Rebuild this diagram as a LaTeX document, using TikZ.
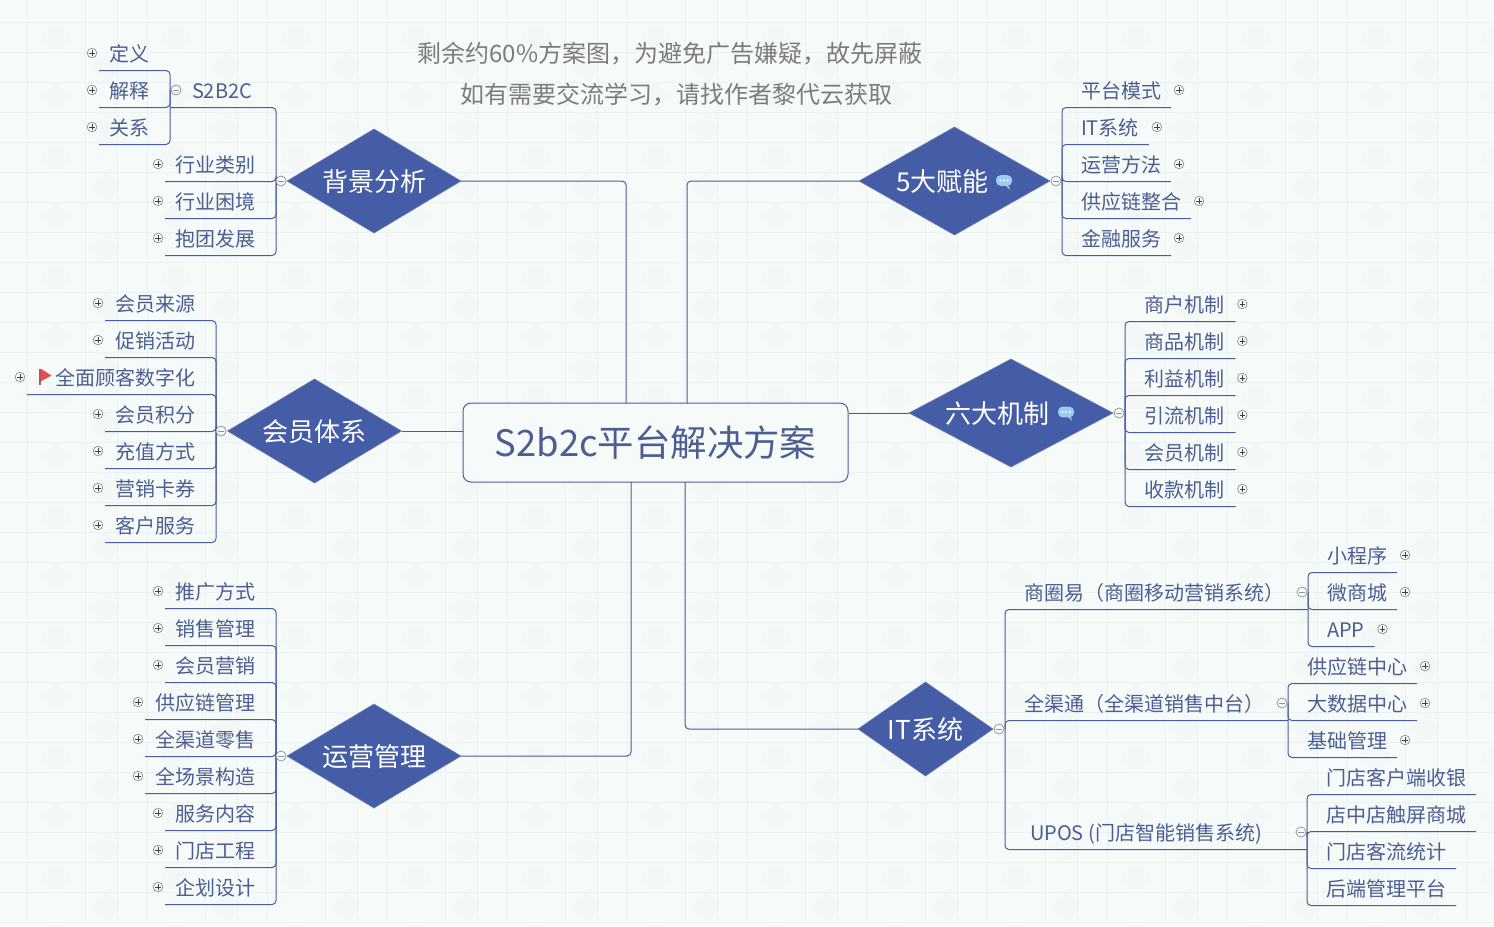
\documentclass[tikz,border=0pt]{standalone}
\usepackage{fontspec}
\setmainfont{Noto Sans CJK SC}
\usetikzlibrary{shapes.geometric}
\definecolor{bgc}{HTML}{F6FBFA}
\definecolor{gridc}{HTML}{EAF3F1}
\definecolor{tilec}{HTML}{F3F8F7}
\definecolor{linec}{HTML}{4A5C9E}
\definecolor{textc}{HTML}{4D5D92}
\definecolor{diac}{HTML}{445DA6}
\definecolor{grayc}{HTML}{7C7C7C}
\definecolor{iconc}{HTML}{8E9498}
\definecolor{bubc}{HTML}{9CCBF2}
\definecolor{flagc}{HTML}{E84C4C}
\definecolor{polec}{HTML}{B0565A}
\tikzset{
  x=0.75pt,y=-0.75pt,
  conn/.style={draw=linec,line width=0.75pt,rounded corners=3pt},
  leafbase/.style={inner xsep=7.5pt,inner ysep=0pt,outer sep=0pt,text=textc,
    font=\fontsize{15pt}{18pt}\selectfont,text height=12pt,text depth=0pt,minimum height=26.25pt},
  leafL/.style={leafbase,anchor=east},
  leafR/.style={leafbase,anchor=west},
  dia/.style={diamond,fill=diac,draw=diac!80!white,line width=.4pt,inner sep=0pt,outer sep=0pt,text=white,
    font=\fontsize{19.5pt}{23pt}\selectfont,text height=16pt,text depth=0pt},
  rootbox/.style={draw=linec,line width=0.75pt,fill=bgc,rounded corners=6pt,inner sep=0pt,
    minimum width=288.75pt,minimum height=59.25pt,text=textc,
    font=\fontsize{27.3pt}{32pt}\selectfont,text height=20.5pt,text depth=0pt},
  notetext/.style={text=grayc,inner sep=0pt,font=\fontsize{18pt}{22pt}\selectfont,text height=13.7pt,text depth=0pt},
  plusi/.style={circle,draw=iconc,line width=.55pt,fill=bgc,minimum size=7.2pt,inner sep=0pt,outer sep=0pt,
    path picture={\draw[black!75,line width=.5pt]
      ([xshift=-2.1pt]path picture bounding box.center)--([xshift=2.1pt]path picture bounding box.center)
      ([yshift=-2.1pt]path picture bounding box.center)--([yshift=2.1pt]path picture bounding box.center);}},
  minusi/.style={circle,draw=iconc,line width=.55pt,fill=bgc,minimum size=7.5pt,inner sep=0pt,outer sep=0pt,
    path picture={\draw[iconc,line width=.5pt]
      ([xshift=-2.1pt]path picture bounding box.center)--([xshift=2.1pt]path picture bounding box.center);}},
  bubble/.style={rectangle,rounded corners=3.4pt,fill=bubc,minimum width=12pt,minimum height=8pt,inner sep=0pt,
    path picture={\fill[white]
      ([xshift=-2.8pt]path picture bounding box.center) circle (.8pt)
      (path picture bounding box.center) circle (.8pt)
      ([xshift=2.8pt]path picture bounding box.center) circle (.8pt);}},
}
\begin{document}
\begin{tikzpicture}
\useasboundingbox (0,0) rectangle (1494,926);
% background
\fill[bgc] (0,0) rectangle (1494,926);
\foreach \i in {0,...,12}{\foreach \j in {0,...,15}{
  \fill[tilec] (56+\i*120,22+\j*60) -- (72+\i*120,37+\j*60) -- (56+\i*120,52+\j*60) -- (40+\i*120,37+\j*60) -- cycle;
  \fill[tilec] (106+\i*120,52+\j*60) -- (122+\i*120,67+\j*60) -- (106+\i*120,82+\j*60) -- (90+\i*120,67+\j*60) -- cycle;
}}
\foreach \i in {0,...,12}{
  \draw[gridc,line width=.6pt] (27+\i*120,0)--(27+\i*120,926);
  \draw[gridc,line width=.6pt] (85+\i*120,0)--(85+\i*120,926);
  \draw[gridc,line width=.6pt] (117+\i*120,0)--(117+\i*120,926);
}
\foreach \j in {0,...,30}{\draw[gridc,line width=.6pt] (0,22+\j*30)--(1494,22+\j*30);}

% notes
\node[notetext] (n1) at (670,53) {剩余约60\%方案图，为避免广告嫌疑，故先屏蔽};
\node[notetext] (n2) at (676,94) {如有需要交流学习，请找作者黎代云获取};

% root and main diamonds
\node[rootbox] (root) at (655.5,442.5) {S2b2c平台解决方案};
\node[dia,shape aspect=1.67,minimum width=130.5pt,minimum height=78pt] (d1) at (374,181) {背景分析};
\node[dia,shape aspect=1.67,minimum width=130.5pt,minimum height=78pt] (d2) at (314.5,431) {会员体系};
\node[dia,shape aspect=1.67,minimum width=130.5pt,minimum height=78pt] (d3) at (374,756) {运营管理};
\node[dia,shape aspect=1.76,minimum width=143.25pt,minimum height=81pt] (d4) at (954.5,181) {5大赋能\hspace{18pt}\mbox{}};
\node[dia,shape aspect=1.89,minimum width=153pt,minimum height=81pt] (d5) at (1011,413) {六大机制\hspace{21pt}\mbox{}};
\node[dia,shape aspect=1.43,minimum width=101.25pt,minimum height=70.5pt] (d6) at (925.5,729) {IT系统};

\coordinate (c1) at (626,403);
\coordinate (c4) at (687,403);
\coordinate (c3) at (631,482);
\coordinate (c6) at (685,482);
\draw[conn] (d1.east) -| (c1);
\draw[conn] (d4.west) -| (c4);
\draw[conn] (d3.east) -| (c3);
\draw[conn] (d6.west) -| (c6);
\draw[conn] (d2.east) -- (d2.east -| root.west);
\draw[conn] (d5.west) -- (d5.west -| root.east);

% bracket points
\coordinate (pa) at (276,181);
\coordinate (qa) at (170,90);
\coordinate (pb) at (216,431);
\coordinate (pc) at (276,756);
\coordinate (pd) at (1062,181);
\coordinate (pe) at (1125,413);
\coordinate (pf) at (1005,729);
\coordinate (qf1) at (1308,592);
\coordinate (qf2) at (1288,703);
\coordinate (qf3) at (1307,832);

% group a
\node[leafR] (s0) at (182,90) {S2B2C};
\node[leafL] (a1) at (159,53) {定义};
\node[leafL] (a2) at (159,90) {解释};
\node[leafL] (a3) at (159,127) {关系};
\node[leafL] (a4) at (265,164) {行业类别};
\node[leafL] (a5) at (265,201) {行业困境};
\node[leafL] (a6) at (265,238) {抱团发展};
\draw[conn] (pa) |- (qa |- s0.south);
\foreach \n in {a4,a5,a6}{\draw[conn] (pa) |- (\n.south west);}
\foreach \n in {a1,a2,a3}{\draw[conn] (qa) |- (\n.south west);}

% group b
\node[leafL] (b1) at (205,303) {会员来源};
\node[leafL] (b2) at (205,340) {促销活动};
\node[leafL] (b3) at (205,377) {\hspace{13.5pt}全面顾客数字化};
\node[leafL] (b4) at (205,414) {会员积分};
\node[leafL] (b5) at (205,451) {充值方式};
\node[leafL] (b6) at (205,488) {营销卡券};
\node[leafL] (b7) at (205,525) {客户服务};
\foreach \n in {b1,b2,b3,b4,b5,b6,b7}{\draw[conn] (pb) |- (\n.south west);}

% group c
\node[leafL] (c-1) at (265,591) {推广方式};
\node[leafL] (c-2) at (265,628) {销售管理};
\node[leafL] (c-3) at (265,665) {会员营销};
\node[leafL] (c-4) at (265,702) {供应链管理};
\node[leafL] (c-5) at (265,739) {全渠道零售};
\node[leafL] (c-6) at (265,776) {全场景构造};
\node[leafL] (c-7) at (265,813) {服务内容};
\node[leafL] (c-8) at (265,850) {门店工程};
\node[leafL] (c-9) at (265,887) {企划设计};
\foreach \n in {c-1,c-2,c-3,c-4,c-5,c-6,c-7,c-8,c-9}{\draw[conn] (pc) |- (\n.south west);}

% group d
\node[leafR] (e1) at (1071,90) {平台模式};
\node[leafR] (e2) at (1071,127) {IT系统};
\node[leafR] (e3) at (1071,164) {运营方法};
\node[leafR] (e4) at (1071,201) {供应链整合};
\node[leafR] (e5) at (1071,238) {金融服务};
\foreach \n in {e1,e2,e3,e4,e5}{\draw[conn] (pd) |- (\n.south east);}

% group e
\node[leafR,inner xsep=8.5pt] (f1) at (1133,304) {商户机制};
\node[leafR,inner xsep=8.5pt] (f2) at (1133,341) {商品机制};
\node[leafR,inner xsep=8.5pt] (f3) at (1133,378) {利益机制};
\node[leafR,inner xsep=8.5pt] (f4) at (1133,415) {引流机制};
\node[leafR,inner xsep=8.5pt] (f5) at (1133,452) {会员机制};
\node[leafR,inner xsep=8.5pt] (f6) at (1133,489) {收款机制};
\foreach \n in {f1,f2,f3,f4,f5,f6}{\draw[conn] (pe) |- (\n.south east);}

% group f
\node[leafR] (g1) at (1014,592) {商圈易（商圈移动营销系统）};
\node[leafR] (g2) at (1014,703) {全渠通（全渠道销售中台）};
\node[leafR] (g3) at (1020,832) {UPOS (门店智能销售系统)};
\draw[conn] (pf) |- (qf1 |- g1.south);
\draw[conn] (pf) |- (qf2 |- g2.south);
\draw[conn] (pf) |- (qf3 |- g3.south);
\node[leafR] (h1) at (1317,555) {小程序};
\node[leafR] (h2) at (1317,592) {微商城};
\node[leafR] (h3) at (1317,629) {APP};
\foreach \n in {h1,h2,h3}{\draw[conn] (qf1) |- (\n.south east);}
\node[leafR] (j1) at (1297,666) {供应链中心};
\node[leafR] (j2) at (1297,703) {大数据中心};
\node[leafR] (j3) at (1297,740) {基础管理};
\foreach \n in {j1,j2,j3}{\draw[conn] (qf2) |- (\n.south east);}
\node[leafR] (k1) at (1316,777) {门店客户端收银};
\node[leafR] (k2) at (1316,814) {店中店触屏商城};
\node[leafR] (k3) at (1316,851) {门店客流统计};
\node[leafR] (k4) at (1316,888) {后端管理平台};
\foreach \n in {k1,k2,k3,k4}{\draw[conn] (qf3) |- (\n.south east);}

% collapse icons
\node[minusi] (ma) at (281,181) {};
\node[minusi] (mq) at (176,90) {};
\node[minusi] (mb) at (221,431) {};
\node[minusi] (mc) at (281,756) {};
\node[minusi] (md) at (1056,181) {};
\node[minusi] (me) at (1119,413) {};
\node[minusi] (mf) at (999,729) {};
\node[minusi] (mf1) at (1302,592) {};
\node[minusi] (mf2) at (1282,703) {};
\node[minusi] (mf3) at (1301,832) {};

% expand icons
\foreach \n in {a1,a2,a3,a4,a5,a6,b1,b2,b3,b4,b5,b6,b7,c-1,c-2,c-3,c-4,c-5,c-6,c-7,c-8,c-9}{
  \node[plusi,xshift=-5.25pt] (i\n) at (\n.west) {};}
\foreach \n in {e1,e2,e3,e4,e5,h1,h2,h3,j1,j2,j3}{
  \node[plusi,xshift=6pt] (i\n) at (\n.east) {};}
\foreach \n in {f1,f2,f3,f4,f5,f6}{
  \node[plusi,xshift=5pt] (i\n) at (\n.east) {};}

% flag
\fill[polec] (38.5,369) rectangle (41,385);
\fill[flagc] (40.5,368.5) -- (51.5,375.5) -- (40.5,381.5) -- cycle;

% comment bubbles
\node[bubble] (b-a) at (1004,180.5) {};
\fill[bubc] (1006,186) -- (1010,190) -- (1009,186) -- cycle;
\node[bubble] (b-b) at (1066,412) {};
\fill[bubc] (1068,417) -- (1072,421) -- (1071,417) -- cycle;
\end{tikzpicture}
\end{document}
